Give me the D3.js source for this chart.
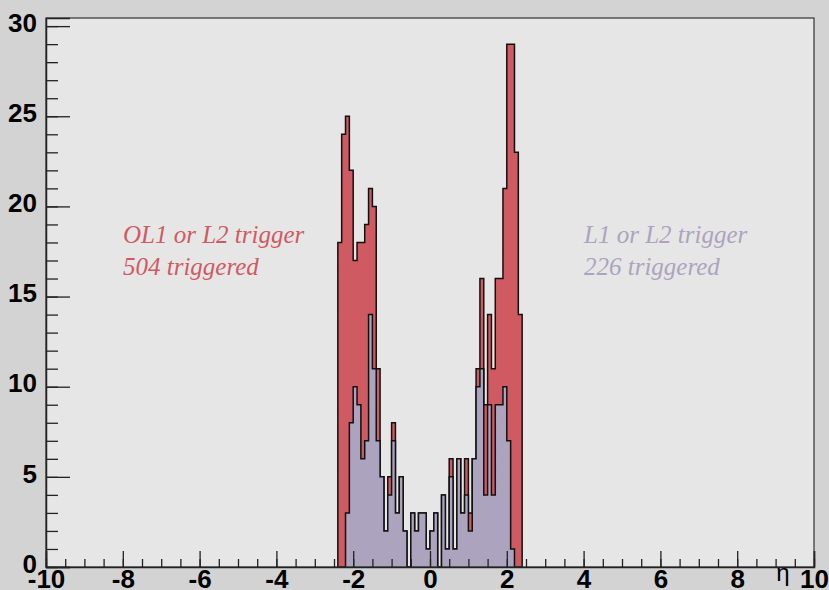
<!DOCTYPE html>
<html>
<head>
<meta charset="utf-8">
<script src="https://cdn.jsdelivr.net/npm/d3@7"></script>
<style>
  html, body { margin: 0; padding: 0; background: #d3d3d3; }
  svg { display: block; }
</style>
</head>
<body>
<svg id="chart" width="829" height="590"></svg>
<script>
// Pseudorapidity binning: 48 bins of width 0.1 starting at eta = -2.4
const binStart = -2.4;
const binWidth = 0.1;

// Entries per eta bin, OL1 or L2 trigger
const countsOL1 = [18, 24, 25, 22, 17, 18, 18, 19, 21, 20,
                   11,  5,  2,  5,  8,  3,  5,  2,  0,  3,
                    2,  3,  3,  1,  2,  3,  0,  4,  1,  6,
                    1,  6,  3,  6,  3,  6, 11, 16,  9, 14,
                   11, 16, 16, 21, 29, 29, 23, 14];

// Entries per eta bin, L1 or L2 trigger
const countsL1 = [ 0,  0,  3,  8, 10,  9,  6,  7, 14, 11,
                   7,  5,  2,  4,  7,  3,  5,  2,  0,  3,
                   2,  3,  3,  1,  2,  3,  0,  4,  1,  5,
                   1,  6,  3,  4,  2,  6, 10, 11,  4,  9,
                   4,  9,  9, 10,  7,  1,  0,  0];

// Axis tick labels
const xTickValues = [-10, -8, -6, -4, -2, 0, 2, 4, 6, 8, 10];
const yTickValues = [0, 5, 10, 15, 20, 25, 30];

// Annotation text
const textOL1 = ["OL1 or L2 trigger", "504 triggered"];
const textL1 = ["L1 or L2 trigger", "226 triggered"];
const axisTitle = "\u03b7";

const W = 829, H = 590;
const frame = { left: 46, right: 814, top: 18, bottom: 567 };

const colOL1 = "#d05a62";
const colL1 = "#aca4be";

const svg = d3.select("#chart");

const x = d3.scaleLinear().domain([-10, 10]).range([frame.left, frame.right]);
const yMax = d3.max(countsOL1) * 1.05;
const y = d3.scaleLinear().domain([0, yMax]).range([frame.bottom, frame.top]);

// canvas and frame background
svg.append("rect").attr("width", W).attr("height", H).attr("fill", "#d3d3d3");
svg.append("rect")
  .attr("x", frame.left).attr("y", frame.top)
  .attr("width", frame.right - frame.left).attr("height", frame.bottom - frame.top)
  .attr("fill", "#e6e6e6");

// step-shaped histogram points: one point per lower bin edge, plus the closing edge
function histPoints(counts) {
  const pts = counts.map((c, i) => ({ e: binStart + i * binWidth, c }));
  pts.push({ e: binStart + counts.length * binWidth, c: 0 });
  return pts;
}

const area = d3.area()
  .curve(d3.curveStepAfter)
  .x(d => x(d.e))
  .y0(y(0))
  .y1(d => y(d.c));

const outline = d3.line()
  .curve(d3.curveStepAfter)
  .x(d => x(d.e))
  .y(d => y(d.c));

function drawHist(counts, fill) {
  const pts = histPoints(counts);
  const withStart = [{ e: binStart, c: 0 }].concat(pts);
  svg.append("path").datum(pts)
    .attr("d", area)
    .attr("fill", fill);
  svg.append("path").datum(withStart)
    .attr("d", outline)
    .attr("fill", "none")
    .attr("stroke", "#111")
    .attr("stroke-width", 1.5);
}

drawHist(countsOL1, colOL1);
drawHist(countsL1, colL1);

// frame border
svg.append("rect")
  .attr("x", frame.left).attr("y", frame.top)
  .attr("width", frame.right - frame.left).attr("height", frame.bottom - frame.top)
  .attr("fill", "none").attr("stroke", "#333").attr("stroke-width", 1.2);

const axisFont = "'Liberation Sans', Arial, sans-serif";

// x axis: minor ticks every 0.5, major ticks with labels
const xMinor = svg.append("g")
  .attr("transform", `translate(0,${frame.bottom})`)
  .call(d3.axisBottom(x).tickValues(d3.range(-10, 10.001, 0.5)).tickSize(-8).tickFormat(""));
xMinor.select(".domain").remove();

const xMajor = svg.append("g")
  .attr("transform", `translate(0,${frame.bottom})`)
  .call(d3.axisBottom(x).tickValues(xTickValues).tickSize(-16).tickPadding(3)
    .tickFormat(d => d3.format("d")(d).replace("\u2212", "-")));
xMajor.select(".domain").attr("stroke", "#222").attr("stroke-width", 1.5);

// y axis: minor ticks every 1, major ticks with labels
const yMinor = svg.append("g")
  .attr("transform", `translate(${frame.left},0)`)
  .call(d3.axisLeft(y).tickValues(d3.range(0, 30.001, 1)).tickSize(-12).tickFormat(""));
yMinor.select(".domain").remove();

const yMajor = svg.append("g")
  .attr("transform", `translate(${frame.left},0)`)
  .call(d3.axisLeft(y).tickValues(yTickValues).tickSize(-24).tickPadding(9).tickFormat(d3.format("d")));
yMajor.select(".domain").attr("stroke", "#222").attr("stroke-width", 1.5);

svg.selectAll(".tick line").attr("stroke", "#222").attr("stroke-width", 1.3);
svg.selectAll(".tick text")
  .attr("fill", "#000")
  .style("font-family", axisFont)
  .style("font-weight", "bold")
  .style("font-size", "26px");
yMajor.selectAll(".tick text").attr("dy", "0.2em");

// axis title
svg.append("text")
  .attr("x", 783).attr("y", 581)
  .attr("text-anchor", "middle")
  .style("font-family", axisFont)
  .style("font-size", "24px")
  .attr("fill", "#000")
  .text(axisTitle);

// annotations
const noteFont = "'Liberation Serif', 'Times New Roman', serif";
function note(lines, x0, color) {
  svg.append("g").selectAll("text").data(lines).join("text")
    .attr("x", x0)
    .attr("y", (d, i) => 243 + i * 32)
    .style("font-family", noteFont)
    .style("font-style", "italic")
    .style("font-size", "25px")
    .attr("fill", color)
    .text(d => d);
}
note(textOL1, 123, colOL1);
note(textL1, 584, colL1);
</script>
</body>
</html>
